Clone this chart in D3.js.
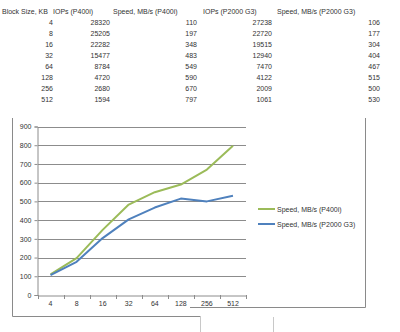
<!DOCTYPE html>
<html>
<head>
<meta charset="utf-8">
<script src="https://cdn.jsdelivr.net/npm/d3@7"></script>
<style>
  html, body { margin: 0; padding: 0; background: #fff; }
  svg { display: block; font-family: "Liberation Sans", Arial, sans-serif; }
</style>
</head>
<body>
<svg id="chart" width="400" height="332"></svg>
<script>
// Benchmark results per block size
const headers = ["Block Size, KB", "IOPs (P400i)", "Speed, MB/s (P400i)", "IOPs (P2000 G3)", "Speed, MB/s (P2000 G3)"];
const blockSizes = ["4", "8", "16", "32", "64", "128", "256", "512"];
const iopsP400i = [28320, 25205, 22282, 15477, 8784, 4720, 2680, 1594];
const speedP400i = [110, 197, 348, 483, 549, 590, 670, 797];
const iopsP2000 = [27238, 22720, 19515, 12940, 7470, 4122, 2009, 1061];
const speedP2000 = [106, 177, 304, 404, 467, 515, 500, 530];
const yTicks = [0, 100, 200, 300, 400, 500, 600, 700, 800, 900];
const seriesNames = ["Speed, MB/s (P400i)", "Speed, MB/s (P2000 G3)"];
const seriesColors = ["#9bbb59", "#4f81bd"];

const svg = d3.select("#chart");

// ---- data table above the chart ----
const colLeft = [2, 53, 113, 203, 277];
const colRight = [54, 111, 198, 273, 381];
const rowY = d3.scaleLinear().domain([0, 1]).range([14, 25]);
const tableCols = [blockSizes, iopsP400i, speedP400i, iopsP2000, speedP2000];

const table = svg.append("g").attr("font-size", 7).attr("fill", "#333");
headers.forEach((h, i) => {
  table.append("text").attr("x", colLeft[i]).attr("y", rowY(0)).text(h);
});
tableCols.forEach((col, ci) => {
  col.forEach((v, ri) => {
    table.append("text")
      .attr("x", colRight[ci] - 1)
      .attr("y", rowY(ri + 1))
      .attr("text-anchor", "end")
      .text(v);
  });
});

// ---- chart frame ----
svg.append("path")
  .attr("d", "M12.5,118 V316.5 H200.5")
  .attr("fill", "none").attr("stroke", "#8a8a8a");
svg.append("path")
  .attr("d", "M190,307.5 H365.5 V118")
  .attr("fill", "none").attr("stroke", "#8a8a8a");
// sheet cell borders below the chart
svg.append("g").selectAll("line").data([200.5, 273.5]).join("line")
  .attr("x1", d => d).attr("x2", d => d).attr("y1", 317).attr("y2", 332)
  .attr("stroke", "#c8c8c8");

// ---- plot ----
const x = d3.scaleBand().domain(blockSizes).range([37.5, 246]);
const y = d3.scaleLinear().domain([0, 900]).range([295, 126.5]);

const grid = svg.append("g");
grid.selectAll("line").data(yTicks.filter(t => t > 0)).join("line")
  .attr("x1", 38).attr("x2", 246)
  .attr("y1", d => Math.round(y(d)) + 0.5).attr("y2", d => Math.round(y(d)) + 0.5)
  .attr("stroke", "#8c8c8c").attr("stroke-width", 1);

const yAxis = svg.append("g").attr("transform", "translate(37.5,0)")
  .call(d3.axisLeft(y).tickValues(yTicks).tickSize(3).tickPadding(3));
const xAxis = svg.append("g").attr("transform", `translate(0,${Math.round(y(0)) + 0.5})`)
  .call(d3.axisBottom(x).tickSize(0).tickPadding(6));

[yAxis, xAxis].forEach(a => {
  a.select(".domain").attr("stroke", "#8c8c8c");
  a.selectAll(".tick line").attr("stroke", "#8c8c8c");
  a.selectAll("text").attr("font-size", 7).attr("fill", "#333")
    .attr("font-family", "'Liberation Sans', Arial, sans-serif");
});

// category boundary tick marks
svg.append("g").selectAll("line").data(blockSizes.concat(["end"])).join("line")
  .attr("x1", (d, i) => Math.round(x.range()[0] + i * x.step()) + 0.5)
  .attr("x2", (d, i) => Math.round(x.range()[0] + i * x.step()) + 0.5)
  .attr("y1", Math.round(y(0))).attr("y2", Math.round(y(0)) + 4)
  .attr("stroke", "#8c8c8c");

const line = d3.line()
  .x((d, i) => x(blockSizes[i]) + x.bandwidth() / 2)
  .y(d => y(d));

[speedP400i, speedP2000].forEach((s, i) => {
  svg.append("path").datum(s)
    .attr("d", line)
    .attr("fill", "none")
    .attr("stroke", seriesColors[i])
    .attr("stroke-width", 2)
    .attr("stroke-linejoin", "round");
});

// ---- legend ----
const legend = svg.append("g").attr("font-size", 7).attr("fill", "#333");
seriesNames.forEach((n, i) => {
  const ly = 209 + i * 15;
  legend.append("line").attr("x1", 258).attr("x2", 275).attr("y1", ly).attr("y2", ly)
    .attr("stroke", seriesColors[i]).attr("stroke-width", 2);
  legend.append("text").attr("x", 277).attr("y", ly + 2.5).text(n);
});
</script>
</body>
</html>
